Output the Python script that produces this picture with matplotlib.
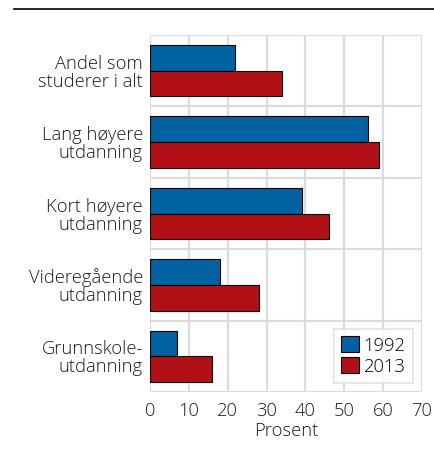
import matplotlib
matplotlib.use("Agg")
import matplotlib.pyplot as plt
import numpy as np
from matplotlib.lines import Line2D

categories = ["Andel som\nstuderer i alt", "Lang høyere\nutdanning", "Kort høyere\nutdanning",
              "Videregående\nutdanning", "Grunnskole-\nutdanning"]
v1992 = [22, 56, 39, 18, 7]
v2013 = [34, 59, 46, 28, 16]
xticks = [0, 10, 20, 30, 40, 50, 60, 70]

plt.rcParams['font.family'] = ['Open Sans', 'DejaVu Sans']
plt.rcParams['font.weight'] = 'light'

fig = plt.figure(figsize=(4.34, 4.55), dpi=100)
ax = fig.add_axes([150/434, 1-392/455, (422-150)/434, (392-35)/455])

n = len(categories)
y = np.arange(n)
h = 0.36
blue = "#0062a1"
red = "#b11016"
ax.barh(y - h/2, v1992, height=h, color=blue, edgecolor="black", linewidth=0.8, label="1992", zorder=3)
ax.barh(y + h/2, v2013, height=h, color=red, edgecolor="black", linewidth=0.8, label="2013", zorder=3)

fs = 13.2
tc = "#1a1a1a"
ax.set_ylim(n - 0.5, -0.5)
ax.set_xlim(0, 70)
ax.set_xticks(xticks)
ax.set_yticks(y)
ax.set_yticklabels(categories, fontsize=fs, color=tc, linespacing=1.0, fontweight='light')
ax.set_xticklabels([str(t) for t in xticks], fontsize=fs, color=tc, fontweight='light')
ax.set_yticks(np.arange(n + 1) - 0.5, minor=True)
ax.tick_params(axis='y', which='both', length=0, pad=5)
ax.tick_params(axis='x', which='both', length=0, pad=7)
ax.grid(axis='x', which='major', color="#dcdcdc", linewidth=1.6, zorder=0)
ax.grid(axis='y', which='minor', color="#dcdcdc", linewidth=1.6, zorder=0)
ax.grid(axis='y', which='major', visible=False)
for s in ax.spines.values():
    s.set_visible(False)
ax.set_xlabel("Prosent", fontsize=fs, color=tc, labelpad=2, fontweight='light')

leg = ax.legend(loc="lower right", bbox_to_anchor=(1.0, 0.0), prop={'size': fs, 'weight': 'light'},
                frameon=True, fancybox=False, edgecolor="#dcdcdc", handlelength=0.95, handleheight=0.95,
                handletextpad=0.25, borderpad=0.4, labelspacing=0.15, borderaxespad=0.5)
leg.get_frame().set_linewidth(1.2)
leg.set_zorder(5)

fig.add_artist(Line2D([14/434, 1.0], [1-9/455, 1-9/455], color="black", linewidth=1.2,
                      transform=fig.transFigure))

fig.savefig("out.png", dpi=100)
